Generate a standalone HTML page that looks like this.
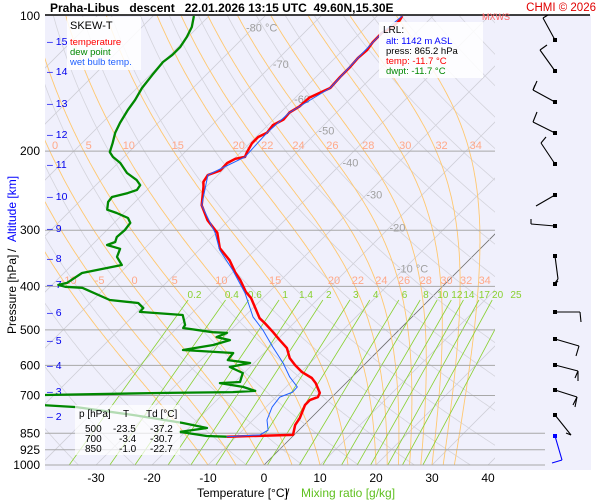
<!DOCTYPE html>
<html><head><meta charset="utf-8"><style>
html,body{margin:0;padding:0;background:#fff;}
svg{display:block;font-family:"Liberation Sans",sans-serif;}
</style></head><body>
<svg id="chart" width="600" height="500" viewBox="0 0 600 500">
<defs><clipPath id="plotclip"><rect x="45" y="16" width="450" height="449"/></clipPath></defs>
<rect x="45" y="15" width="546" height="455" fill="#f0f0fc"/>
<g id="grid" clip-path="url(#plotclip)"></g>
<g id="plines"></g>
<g id="labels"></g>
<g id="series" clip-path="url(#plotclip)"></g>
<g id="winds"></g>
<line x1="45" y1="15" x2="590" y2="15" stroke="#000" stroke-width="1.5"/>
<text x="50" y="12" font-size="12" font-weight="bold" xml:space="preserve">Praha-Libus   descent   22.01.2026 13:15 UTC  49.60N,15.30E</text>
<text x="596" y="11" font-size="11.5" fill="#e00000" text-anchor="end">CHMI © 2026</text>
<text x="482" y="20" font-size="9" fill="#ff6060">MXWS</text>
<g>
<rect x="67" y="17" width="74" height="53" fill="#fff" opacity="0.85"/>
<text x="70" y="29" font-size="11">SKEW-T</text>
<text x="70" y="45" font-size="9.5" fill="#ff0000">temperature</text>
<text x="70" y="55" font-size="9.5" fill="#008800">dew point</text>
<text x="70" y="65" font-size="9.5" fill="#2060ff">wet bulb temp.</text>
</g>
<g>
<rect x="379" y="22" width="104" height="56" fill="#fff" opacity="0.85"/>
<text x="383" y="33" font-size="10">LRL:</text>
<text x="386" y="44" font-size="9.5" fill="#0000ff">alt: 1142 m ASL</text>
<text x="386" y="54" font-size="9.5">press: 865.2 hPa</text>
<text x="386" y="64" font-size="9.5" fill="#ff0000">temp: -11.7 °C</text>
<text x="386" y="74" font-size="9.5" fill="#008800">dwpt: -11.7 °C</text>
</g>
<g font-size="10">
<rect x="75" y="405" width="105" height="50" fill="#fff" opacity="0.7"/>
<text x="79" y="417">p [hPa]</text><text x="123" y="417">T</text><text x="146" y="417">Td [°C]</text>
<text x="85" y="432">500</text><text x="113" y="432">-23.5</text><text x="150" y="432">-37.2</text>
<text x="85" y="442">700</text><text x="119" y="442">-3.4</text><text x="150" y="442">-30.7</text>
<text x="85" y="452">850</text><text x="119" y="452">-1.0</text><text x="150" y="452">-22.7</text>
</g>
<g transform="translate(12,250) rotate(-90)" font-size="12">
<text x="-84" y="4">Pressure [hPa]</text><text x="-2" y="4">/</text><text x="8" y="4" fill="#0000ff">Altitude [km]</text>
</g>
<g font-size="12">
<text x="197" y="497">Temperature [°C]</text><text x="286" y="497">/</text><text x="301" y="497" fill="#60c020">Mixing ratio [g/kg]</text>
</g>
</svg>
<script>
const tempP=[865,857,814,786,735,717,706,691,657,640,621,599,578,549,527,506,483,471,447,425,412,387,372,350,329,304,285,264,240,234,226,221,212.5,208,206,201,192,186,182,175,170,164,159,152,148,144.7,136.7,130,124,119,114.3,109,105.8,102,100];
const tempT=[-11.7,-0.2,-1.6,-2.0,-3.4,-3.4,-2.5,-2.9,-5.4,-7.0,-9.8,-12.3,-14.5,-16.8,-19.5,-22.1,-25.2,-27.0,-29.6,-32.1,-34.1,-37.3,-39.6,-42.7,-46.6,-49.8,-53.8,-57.5,-60.5,-61.4,-61.8,-60.4,-60.5,-59.8,-58.4,-58.9,-59.6,-59.6,-58.8,-59.1,-58.2,-58.4,-57.7,-57.5,-56.4,-55.5,-55.7,-55.7,-55.9,-55.7,-56.1,-56.1,-55.2,-55.2,-55.5];
const dewP=[100,105.8,111.4,117.2,122.1,126.6,135.3,144.7,153.8,161.9,173,182,192,201,206,212.5,223.7,232,238,244,248,253,259.6,270,274.7,281.7,289,299.7,310.6,318.6,323.6,330,344,358.6,373.5,393,397,401,403,429,435.7,447,456,463.4,487.7,495.3,506,508,519,527,540.4,554.5,563,584,592.7,605,624,653.4,657,670,684,688,691,702,724,743,774,806,827,844,862,865];
const dewT=[-92.7,-91.1,-90.2,-89.6,-89.6,-90.0,-89.6,-89.1,-88.2,-87.7,-86.8,-85.9,-84.5,-83.4,-82.0,-79.6,-76.6,-73.6,-72.1,-71.8,-72.9,-75.0,-74.8,-73.6,-71.3,-68.4,-67.1,-66.8,-67.0,-66.4,-67.3,-64.3,-63.4,-61.1,-66.8,-67.7,-68.9,-67.3,-64.1,-57.0,-51.4,-49.6,-49.5,-41.3,-39.1,-38.9,-32.9,-30.2,-31.3,-28.4,-30.5,-35.0,-25.5,-25.2,-20.7,-23.6,-20.2,-19.1,-22.5,-17.7,-14.8,-18.6,-30.2,-62,-60,-43.8,-32.3,-22.1,-16.8,-20.9,-15.4,-11.7];
const wetP=[100,109,124,144.7,164,182,206,226,264,304,332,368,414,468,500.4,546,592.7,637,670,688,706,743,794,836,857,865];
const wetT=[-55.5,-56.1,-55.9,-55.5,-58.4,-58.8,-58.4,-61.8,-57.5,-50.2,-46.3,-40.4,-34.1,-28.4,-24.3,-19.5,-14.8,-11.1,-8.0,-7.9,-9.3,-8.9,-7.5,-5.5,-6.1,-11.7];
const pressureLevels=[200,300,400,500,600,700,850,925,1000];
const pressureTickLabels=["100","200","300","400","500","600","700","850","925","1000"];
const pressureTickValues=[100,200,300,400,500,600,700,850,925,1000];
const altKm=[15,14,13,12,11,10,9,8,7,6,5,4,3,2];
const altY=[41,71,103,134,164,196,228,258,284,312,340,365,391,416];
const tempTicks=[-30,-20,-10,0,10,20,30,40];
const isoLabels=[-80,-70,-60,-50,-40,-30,-20,-10];
const isoLabelP=[106,128,153,180,212,250,296,365];
const thetaW=[-10,-5,0,5,10,15,20,22,24,26,28,30,32,34];
const mixRatios=[0.2,0.4,0.6,1,1.4,2,3,4,6,8,10,12,14,17,20,25];

const NS="http://www.w3.org/2000/svg";
function yOf(p){return 465-195*Math.log(1000/p);}
function xOf(p,T){return 264+5.6*T+(465-yOf(p));}
function mk(tag,attrs,parent){const e=document.createElementNS(NS,tag);for(const k in attrs)e.setAttribute(k,attrs[k]);parent.appendChild(e);return e;}
function pathFrom(pts){return pts.map((q,i)=>(i?"L":"M")+q[0].toFixed(1)+","+q[1].toFixed(1)).join("");}
const grid=document.getElementById("grid"),plines=document.getElementById("plines"),labels=document.getElementById("labels"),series=document.getElementById("series"),winds=document.getElementById("winds");
const pts=[];for(let p=1000;p>=95;p-=5)pts.push(p);

for(let T=-140;T<=40;T+=10){
  const e=mk("line",{x1:xOf(1000,T),y1:yOf(1000),x2:xOf(90,T),y2:yOf(90),stroke:T===0?"#707070":"#cfcfd8","stroke-width":0.8},grid);
  
  
}
for(let th=240;th<=520;th+=10){
  const d=pathFrom(pts.map(p=>[xOf(p,th*Math.pow(p/1000,0.2857)-273.15),yOf(p)]));
  const e=mk("path",{d:d,fill:"none",stroke:"#d4d4dc","stroke-width":0.8},grid);
  
  
}
function es(Tc){return 6.112*Math.exp(17.67*Tc/(Tc+243.5));}
function moist(tw){
  let T=tw+273.15,lp=Math.log(1000);const out=[];const step=-0.01;
  while(Math.exp(lp)>=90){
    const p=Math.exp(lp);out.push([p,T-273.15]);
    const e=es(T-273.15),rs=0.622*e/(p-e);
    const g=(287*T+2.5e6*rs)/(1005+2.5e6*2.5e6*rs*0.622/(287*T*T));
    T+=g*step;lp+=step;
  }
  return out;
}
const moistLines=thetaW.map(moist);
moistLines.forEach(ml=>{
  const e=mk("path",{d:pathFrom(ml.map(q=>[xOf(q[0],q[1]),yOf(q[0])])),fill:"none",stroke:"#ffc870","stroke-width":0.9},grid);
  
  
});
function mixT(w,p){const e=w*p/(622+w);const l=Math.log(e/6.112);return 243.5*l/(17.67-l);}
const pTop=1000*Math.exp(-(465-300)/195);
mixRatios.forEach(w=>{
  const e=mk("line",{x1:xOf(1000,mixT(w,1000)),y1:yOf(1000),x2:xOf(pTop,mixT(w,pTop)),y2:yOf(pTop),stroke:"#88d030","stroke-width":0.8},grid);
  
  
  const pl=1000*Math.exp(-(465-294)/195);
  const t=mk("text",{x:xOf(pl,mixT(w,pl))+2,y:298,"font-size":10,fill:"#88d030","text-anchor":"middle"},labels);
  t.textContent=String(w);
  
  
});
[[145,8],[280,6]].forEach(r=>{
  const yl=r[0];
  const pl=1000*Math.exp(-(465-yl)/195);
  moistLines.forEach((ml,i)=>{
    let best=ml[0];for(const q of ml){if(Math.abs(q[0]-pl)<Math.abs(best[0]-pl))best=q;}
    const x=xOf(best[0],best[1])+r[1];
    if(x<50||x>490)return;
    const t=mk("text",{x:x,y:yl+4,"font-size":11,fill:"#ffa888","text-anchor":"middle"},labels);
    t.textContent=String(thetaW[i]);
    
    
  });
});
isoLabels.forEach((T,i)=>{
  const p=isoLabelP[i];
  const t=mk("text",{x:xOf(p,T)+8,y:yOf(p)+4,"font-size":11,fill:"#a0a0a0","text-anchor":"middle"},labels);
  t.textContent=(T===-80||T===-10)?T+" °C":String(T);
  
  
});
pressureLevels.forEach(p=>{
  const e=mk("line",{x1:45,y1:yOf(p),x2:p>=850?545:495,y2:yOf(p),stroke:"#a8a8a8","stroke-width":1},plines);
  
  
});
pressureTickValues.forEach((p,i)=>{
  const t=mk("text",{x:40,y:yOf(p)+4,"font-size":12,"text-anchor":"end"},labels);
  t.textContent=pressureTickLabels[i];
  
  
});
altKm.forEach((k,i)=>{
  const t=mk("text",{x:47,y:altY[i]+4,"font-size":10.5,fill:"#0000ee"},labels);
  t.textContent="– "+k;
  
  
});
tempTicks.forEach(T=>{
  const t=mk("text",{x:264+5.6*T,y:482,"font-size":12,"text-anchor":"middle"},labels);
  t.textContent=String(T);
  
  
});
function prof(P,T,color,w,name){
  const e=mk("path",{d:pathFrom(P.map((p,i)=>[xOf(p,T[i]),yOf(p)])),fill:"none",stroke:color,"stroke-width":w,"stroke-linejoin":"round"},series);
  
  
}
prof(dewP,dewT,"#008800",2.3,"dew-point-line");
prof(tempP,tempT,"#ff0000",2.5,"temperature-line");
prof(wetP,wetT,"#2060ff",1,"wet-bulb-line");
const barbs=[
 [[[-12,-22],[5,-3]]],[[[-15,-21],[7,-5]]],[[[-22,-12],[4,-9]],[[-22,-12],[2,-5]]],[[[-22,-11],[4,-10]]],
 [[[-14,-21],[5,-6]]],[[[-19,11]]],[[[-24,-2],[0,-5]]],[[[3,23],[-3,4]]],[[[3,-3]]],
 [[[25,0],[1,10]]],[[[24,7],[-3,10]]],[[[23,6],[0,10],[-3,7]]],[[[22,7],[-2,10],[-4,8]]],[[[16,20],[-5,-2]]],[[[7,24],[-10,3]]]
];
const windY=[40,71,102,133,164,195,226,256,284,312,339,365,390,415,436];
windY.forEach((y,i)=>{
  const col=i===windY.length-1?"#0000ff":"#000";
  const g=mk("g",{stroke:col,"stroke-width":1.1,fill:"none"},winds);
  
  
  mk("rect",{x:553,y:y-2,width:4,height:4,fill:col,stroke:"none"},g);
  const b=barbs[i][0];const ex=555+b[0][0],ey=y+b[0][1];
  mk("line",{x1:555,y1:y,x2:ex,y2:ey},g);
  for(let k=1;k<b.length;k++)mk("line",{x1:ex,y1:ey,x2:ex+b[k][0],y2:ey+b[k][1]},g);
  for(let k=1;k<barbs[i].length;k++){const c=barbs[i][k];mk("line",{x1:ex,y1:ey,x2:ex+c[1][0],y2:ey+c[1][1]},g);}
});
</script>
</body></html>
